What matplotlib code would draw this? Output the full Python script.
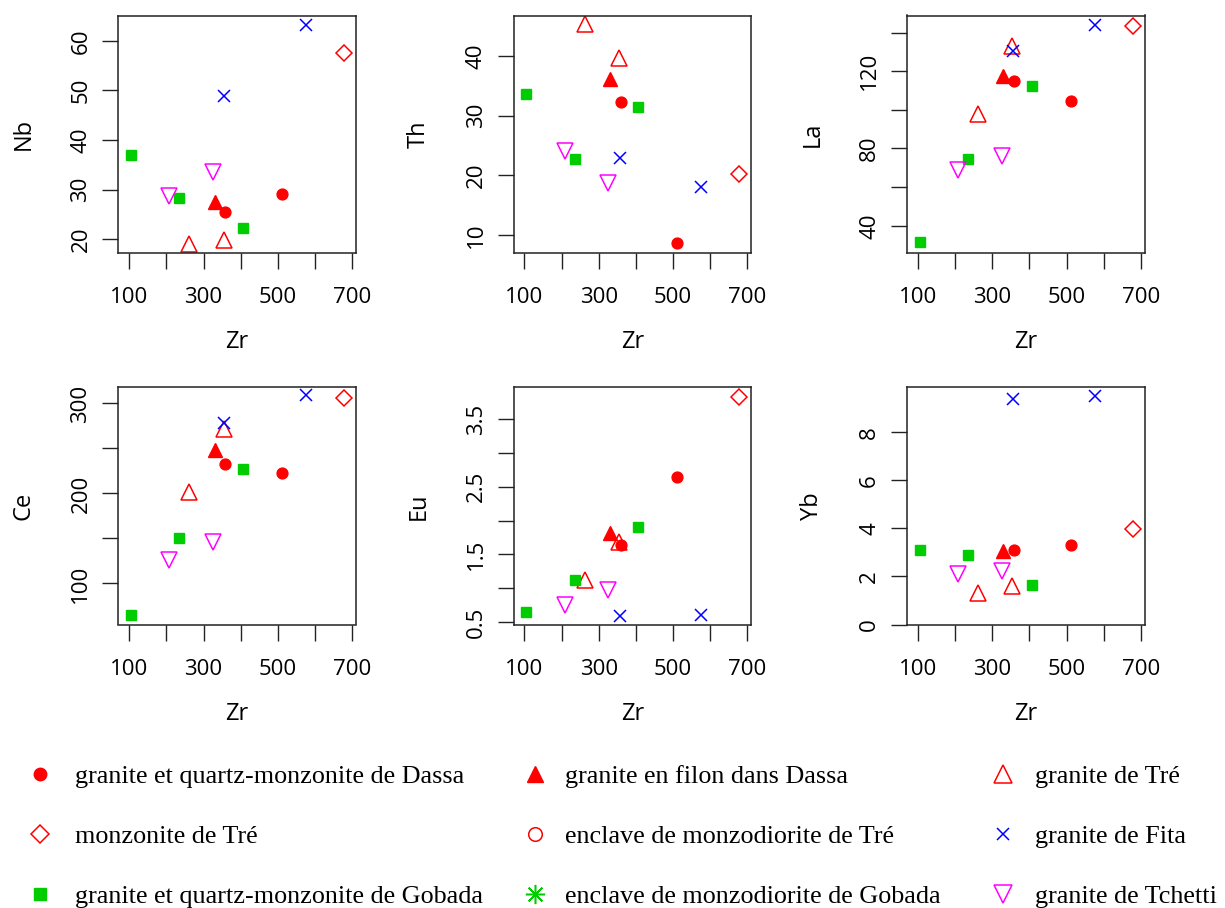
import numpy as np
import matplotlib.pyplot as plt

# one entry per sample
group = ['dassa', 'dassa', 'filon', 'tre', 'tre', 'monz_tre', 'fita', 'fita',
         'gobada', 'gobada', 'gobada', 'tchetti', 'tchetti']
zr = [359, 512, 330, 262, 354, 679, 356, 576, 105, 235, 406, 208, 325]
nb = [25.5, 29.2, 27.4, 19.0, 19.8, 57.6, 48.8, 63.2, 37.0, 28.2, 22.2, 28.7, 33.5]
th = [32.3, 8.6, 36.2, 45.3, 39.7, 20.3, 22.9, 18.1, 33.7, 22.7, 31.4, 24.1, 18.8]
la = [115.1, 104.4, 117.4, 98.0, 133.1, 143.3, 130.5, 143.8, 31.4, 74.4, 112.5, 68.7, 76.1]
ce = [233.1, 223.1, 248.7, 201.2, 271.8, 305.6, 278.5, 309.4, 64.7, 150.2, 227.5, 126.0, 146.5]
eu = [1.64, 2.65, 1.82, 1.13, 1.69, 3.83, 0.59, 0.61, 0.65, 1.13, 1.91, 0.76, 0.97]
yb = [3.08, 3.31, 3.05, 1.31, 1.59, 3.98, 9.38, 9.52, 3.12, 2.88, 1.66, 2.12, 2.22]

groups = ['dassa', 'filon', 'tre', 'monz_tre', 'encl_tre', 'fita', 'gobada', 'encl_gobada', 'tchetti']
labels = ['granite et quartz-monzonite de Dassa', 'granite en filon dans Dassa', 'granite de Tré',
          'monzonite de Tré', 'enclave de monzodiorite de Tré', 'granite de Fita',
          'granite et quartz-monzonite de Gobada', 'enclave de monzodiorite de Gobada',
          'granite de Tchetti']

red, blue, green, mag = '#ff0000', '#0000ff', '#00cd00', '#ff00ff'
style = {
    'dassa':       dict(marker='o', color=red, ms=7.8),
    'filon':       dict(marker='^', color=red, ms=10),
    'tre':         dict(marker='^', color=red, mfc='none', ms=11, mew=1.1),
    'monz_tre':    dict(marker='D', color=red, mfc='none', ms=8.2, mew=1.1),
    'encl_tre':    dict(marker='o', color=red, mfc='none', ms=8.5, mew=1.1),
    'fita':        dict(marker='x', color=blue, ms=8, mew=1.1),
    'gobada':      dict(marker='s', color=green, ms=7.8),
    'encl_gobada': dict(marker=(8, 2, 0), color=green, ms=12, mew=1.1),
    'tchetti':     dict(marker='v', color=mag, mfc='none', ms=11, mew=1.1),
}

panels = [('Nb', nb, (17.2, 65.1), [20, 30, 40, 50, 60], [20, 30, 40, 50, 60]),
          ('Th', th, (7.0, 46.8), [10, 20, 30, 40], [10, 20, 30, 40]),
          ('La', la, (25.9, 148.8), [40, 60, 80, 100, 120, 140], [40, 80, 120]),
          ('Ce', ce, (54.3, 318.3), [100, 150, 200, 250, 300], [100, 200, 300]),
          ('Eu', eu, (0.466, 3.972), [0.5, 1, 1.5, 2, 2.5, 3, 3.5], [0.5, 1.5, 2.5, 3.5]),
          ('Yb', yb, (0, 9.885), [0, 2, 4, 6, 8], [0, 2, 4, 6, 8])]

W, H = 1225, 908
fig = plt.figure(figsize=(W / 100, H / 100), dpi=100)
plt.rcParams['font.family'] = 'Open Sans'

lefts = [118.5, 513.7, 907.3]
tops = [15.5, 387]
zr_a = np.array(zr)
grp_a = np.array(group)
handles = {}
for i, (name, vals, ylim, yt, ylab) in enumerate(panels):
    l = lefts[i % 3]
    t = tops[i // 3]
    ax = fig.add_axes([l / W, 1 - (t + 237.5) / H, 237.3 / W, 237.5 / H])
    v = np.array(vals)
    for g in groups:
        m = grp_a == g
        h, = ax.plot(zr_a[m], v[m], linestyle='none', **style[g])
        handles[g] = h
    ax.set_xlim(71, 710)
    ax.set_ylim(*ylim)
    ax.set_xticks([100, 200, 300, 400, 500, 600, 700])
    ax.set_xticklabels(['100', '', '300', '', '500', '', '700'])
    ax.set_yticks(yt)
    ax.set_yticklabels([('%g' % y if y in ylab else '') for y in yt])
    ax.tick_params(length=11.5, width=1.0, labelsize=16, color='#222222')
    ax.tick_params(axis='x', pad=13)
    ax.tick_params(axis='y', pad=8, labelrotation=90)
    for lab in ax.get_yticklabels():
        lab.set_verticalalignment('center')
    for s in ax.spines.values():
        s.set_linewidth(1.1)
        s.set_color('#222222')
    ax.set_xlabel('Zr', fontsize=17, labelpad=16)
    ax.set_ylabel(name, fontsize=17, labelpad=25)

cols = [['dassa', 'monz_tre', 'gobada'],
        ['filon', 'encl_tre', 'encl_gobada'],
        ['tre', 'fita', 'tchetti']]
xs = [27, 522, 990]
pads = [0.85, 0.65, 0.73]
for col, x0, pd in zip(cols, xs, pads):
    hs = [handles[g] for g in col]
    ls = [labels[groups.index(g)] for g in col]
    fig.legend(hs, ls, loc='upper left', bbox_to_anchor=(x0 / W, 1 - 765 / H),
               frameon=False, handlelength=1, handletextpad=pd, labelspacing=1.40,
               borderpad=0, borderaxespad=0, markerscale=1.15,
               prop={'family': 'Liberation Serif', 'size': 18.8})

fig.savefig('out.png', dpi=100, facecolor='white')
